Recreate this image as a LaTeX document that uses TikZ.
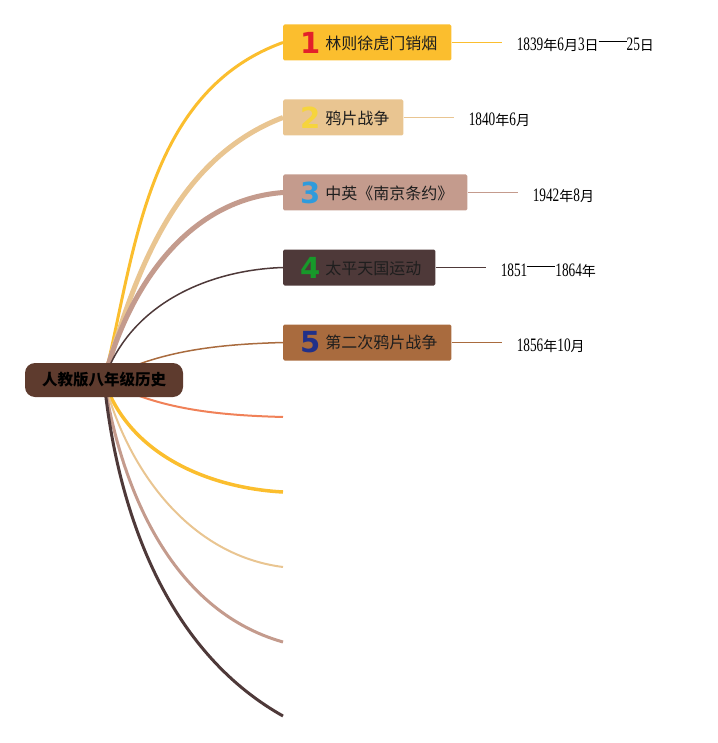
\documentclass[tikz,border=0pt]{standalone}
\usepackage{fontspec}
\setmainfont{Liberation Serif}
\newfontfamily\cjk{Noto Sans CJK SC}
\newfontfamily\digitfont{DejaVu Sans}
\definecolor{cyel}{HTML}{FBBE2E}
\definecolor{ctan}{HTML}{E9C591}
\definecolor{crose}{HTML}{C49B8D}
\definecolor{cdark}{HTML}{4E3939}
\definecolor{cbrown}{HTML}{A96B3E}
\definecolor{ccoral}{HTML}{F08158}
\definecolor{croot}{HTML}{5E3B2E}
\definecolor{dA}{HTML}{E3202A}
\definecolor{dB}{HTML}{F6D43C}
\definecolor{dC}{HTML}{2F9BDC}
\definecolor{dD}{HTML}{17992A}
\definecolor{dE}{HTML}{213089}
\definecolor{txt}{HTML}{1E1E1E}
\newcommand{\dig}[2]{\raisebox{-4pt}{\digitfont\bfseries\fontsize{29}{29}\selectfont\textcolor{#1}{#2}}}
\newcommand{\topictext}[3]{\kern17pt\dig{#1}{#2}\kern5pt #3\kern14pt}
% tall narrow digits (like SimSun) and CJK glyphs for the date labels
\newcommand{\dn}[1]{\scalebox{0.7}[1]{\fontsize{19}{19}\selectfont #1}}
\newcommand{\cj}[1]{{\cjk\fontsize{14}{14}\selectfont #1}}
\newcommand{\dash}{\rule[9pt]{28pt}{0.8pt}}
\newcommand{\datetext}[1]{\rule{0pt}{17pt}\smash{#1}}
\tikzset{
  topicbox/.style={anchor=west, minimum height=36pt, inner ysep=0pt, inner xsep=0pt,
    rounded corners=1.5pt, text=txt, font=\cjk\fontsize{16}{16}\selectfont},
  datebox/.style={anchor=west, inner xsep=15pt, inner ysep=0pt, text=black},
  rootbox/.style={minimum width=158pt, minimum height=34pt, inner sep=0pt,
    rounded corners=10pt, fill=croot, text=black,
    font=\cjk\bfseries\fontsize{15.5}{15.5}\selectfont},
  dateline/.style={line width=0.6pt},
}
\begin{document}
\begin{tikzpicture}[x=1pt,y=-1pt]
\useasboundingbox (0,0) rectangle (717,743);
% topic boxes
\node[topicbox, fill=cyel]   (b1) at (283,42.5)  {\topictext{dA}{1}{林则徐虎门销烟}};
\node[topicbox, fill=ctan]   (b2) at (283,117.5) {\topictext{dB}{2}{鸦片战争}};
\node[topicbox, fill=crose]  (b3) at (283,192.5) {\topictext{dC}{3}{中英《南京条约》}};
\node[topicbox, fill=cdark]  (b4) at (283,267.5) {\topictext{dD}{4}{太平天国运动}};
\node[topicbox, fill=cbrown] (b5) at (283,342.5) {\topictext{dE}{5}{第二次鸦片战争}};
% date labels
\node[datebox] (t1) at ([xshift=50pt]b1.east) {\datetext{\dn{1839}\cj{年}\dn{6}\cj{月}\dn{3}\cj{日}\dash\dn{25}\cj{日}}};
\node[datebox] (t2) at ([xshift=50pt]b2.east) {\datetext{\dn{1840}\cj{年}\dn{6}\cj{月}}};
\node[datebox] (t3) at ([xshift=50pt]b3.east) {\datetext{\dn{1942}\cj{年}\dn{8}\cj{月}}};
\node[datebox] (t4) at ([xshift=50pt]b4.east) {\datetext{\dn{1851}\dash\dn{1864}\cj{年}}};
\node[datebox] (t5) at ([xshift=50pt]b5.east) {\datetext{\dn{1856}\cj{年}\dn{10}\cj{月}}};
\draw[dateline, cyel]   (b1.east) -- (t1.west);
\draw[dateline, ctan]   (b2.east) -- (t2.west);
\draw[dateline, crose]  (b3.east) -- (t3.west);
\draw[dateline, cdark]  (b4.east) -- (t4.west);
\draw[dateline, cbrown] (b5.east) -- (t5.west);
% empty branch ends
\coordinate (e6) at (283,417);
\coordinate (e7) at (283,492);
\coordinate (e8) at (283,567);
\coordinate (e9) at (283,642);
\coordinate (e10) at (283,716);
\coordinate (rc) at (104,380);
% curves
\draw[cyel, line width=3pt]    (rc) .. controls (134.7,258) and (144.6,92.5) .. (b1.west);
\draw[ctan, line width=5pt]    (rc) .. controls (133.8,276.3) and (174.7,158.7) .. (b2.west);
\draw[crose, line width=5pt]   (rc) .. controls (126.8,292.7) and (183.9,200.1) .. (b3.west);
\draw[cdark, line width=1.5pt] (rc) .. controls (129.9,303.8) and (208.6,269.9) .. (b4.west);
\draw[cbrown, line width=1.5pt](rc) .. controls (158.1,349.7) and (222,344.2) .. (b5.west);
\draw[ccoral, line width=2pt]  (rc) .. controls (158.1,410.3) and (222,415.3) .. (e6);
\draw[cyel, line width=3.5pt]  (rc) .. controls (128.7,455) and (209.7,488.1) .. (e7);
\draw[ctan, line width=2pt]    (rc) .. controls (126.2,466.9) and (187.3,554.8) .. (e8);
\draw[crose, line width=3pt]   (rc) .. controls (120.6,485.8) and (169.6,609.9) .. (e9);
\draw[cdark, line width=3pt]   (rc) .. controls (116.9,508.2) and (164.5,649.4) .. (e10);
% root
\node[rootbox] (root) at (rc) {人教版八年级历史};
\end{tikzpicture}
\end{document}
